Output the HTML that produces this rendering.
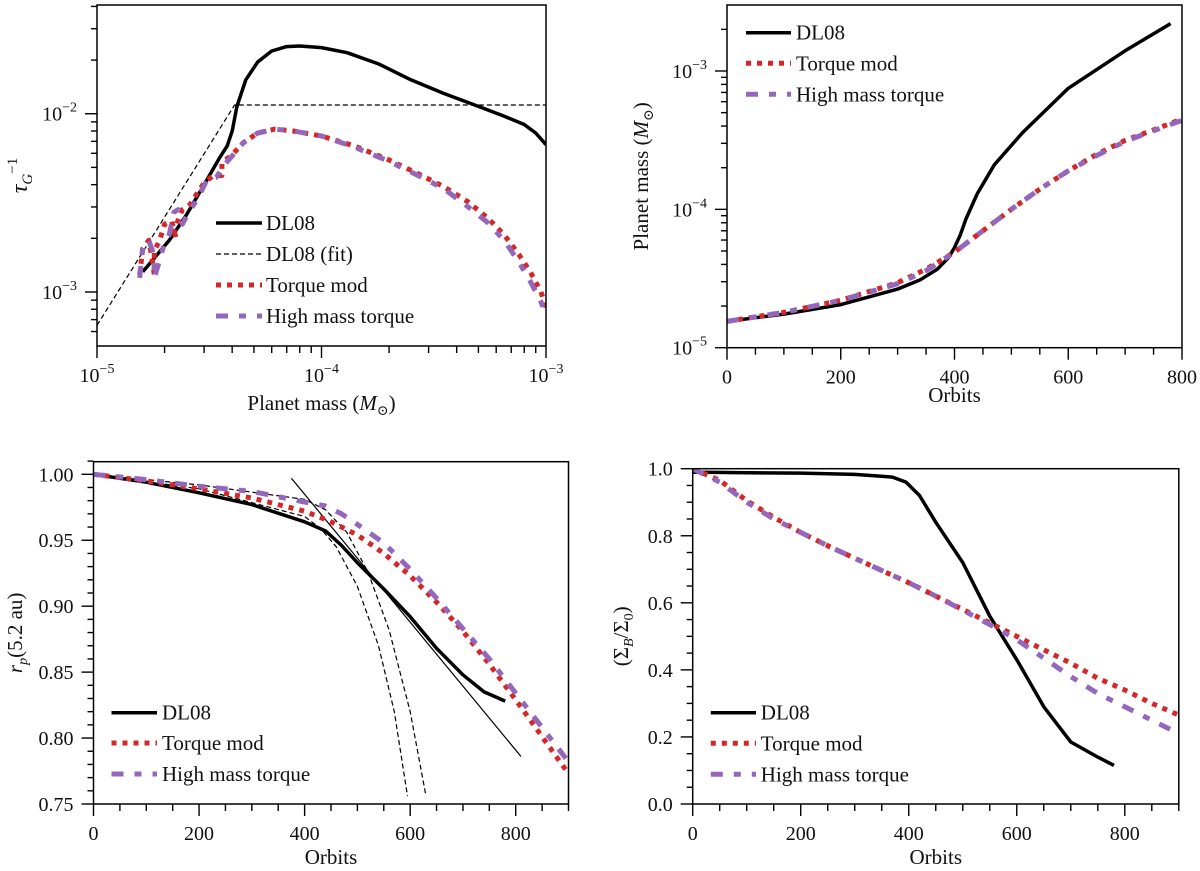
<!DOCTYPE html>
<html><head><meta charset="utf-8"><style>
html,body{margin:0;padding:0;background:#fff}
svg{display:block}
text{font-family:"Liberation Serif","DejaVu Serif",serif;fill:#111}
</style></head><body>
<svg id="fig" width="1200" height="871" viewBox="0 0 1200 871" xmlns="http://www.w3.org/2000/svg"></svg>
<script>
// ---- Panel A: tau_G^-1 vs planet mass (log-log)
const aDL08M=[1.6e-5,1.8e-5,2.1e-5,2.5e-5,3.0e-5,3.5e-5,3.8e-5,4.0e-5,4.2e-5,4.6e-5,5.2e-5,6e-5,7e-5,8e-5,1e-4,1.3e-4,1.8e-4,2.5e-4,3.5e-4,5e-4,6.5e-4,8e-4,9e-4,1e-3];
const aDL08V=[1.3e-3,1.55e-3,1.95e-3,2.7e-3,4.0e-3,5.6e-3,6.6e-3,8.0e-3,1.1e-2,1.55e-2,1.95e-2,2.25e-2,2.38e-2,2.4e-2,2.35e-2,2.2e-2,1.9e-2,1.55e-2,1.3e-2,1.1e-2,9.7e-3,8.7e-3,7.8e-3,6.7e-3];
const aFitM=[1e-5,4.1e-5,1e-3];
const aFitV=[6.5e-4,1.12e-2,1.12e-2];
const aTqM=[1.55e-5,1.6e-5,1.7e-5,1.75e-5,1.8e-5,1.8e-5,1.9e-5,2.0e-5,2.15e-5,2.25e-5,2.2e-5,2.4e-5,2.6e-5,2.8e-5,3.0e-5,3.3e-5,3.6e-5,3.6e-5,4e-5,4.5e-5,5.2e-5,6.2e-5,7.5e-5,1e-4,1.4e-4,2e-4,2.7e-4,3.5e-4,4.5e-4,5.5e-4,6.5e-4,7.5e-4,8.5e-4,9.5e-4,1e-3];
const aTqV=[1.25e-3,1.75e-3,1.95e-3,1.6e-3,1.25e-3,1.7e-3,1.95e-3,2.4e-3,2.5e-3,2.0e-3,2.2e-3,2.9e-3,3.1e-3,3.6e-3,4.1e-3,4.5e-3,4.5e-3,5.3e-3,5.9e-3,6.9e-3,7.8e-3,8.2e-3,8.0e-3,7.5e-3,6.6e-3,5.5e-3,4.6e-3,3.9e-3,3.2e-3,2.6e-3,2.1e-3,1.65e-3,1.3e-3,1.0e-3,8.2e-4];
const aHmM=[1.55e-5,1.6e-5,1.7e-5,1.8e-5,1.8e-5,1.9e-5,2.0e-5,2.1e-5,2.2e-5,2.3e-5,2.4e-5,2.6e-5,2.8e-5,3.1e-5,3.4e-5,3.7e-5,4e-5,4.5e-5,5.2e-5,6.2e-5,7.5e-5,1e-4,1.4e-4,2e-4,2.7e-4,3.5e-4,4.5e-4,5.5e-4,6.5e-4,7.5e-4,8.5e-4,9.5e-4,1e-3];
const aHmV=[1.2e-3,1.8e-3,1.95e-3,1.6e-3,1.2e-3,1.5e-3,1.9e-3,2.1e-3,2.8e-3,2.9e-3,2.4e-3,2.9e-3,3.3e-3,4.3e-3,4.4e-3,5.2e-3,5.8e-3,6.9e-3,7.8e-3,8.2e-3,8.0e-3,7.5e-3,6.5e-3,5.4e-3,4.5e-3,3.8e-3,3.0e-3,2.45e-3,1.95e-3,1.5e-3,1.15e-3,8.8e-4,7.4e-4];
// ---- Panel B: planet mass vs orbits (log y)
const bDL08T=[0,100,200,300,340,370,390,400,410,420,440,470,520,600,700,780];
const bDL08V=[1.55e-5,1.75e-5,2.05e-5,2.65e-5,3.1e-5,3.7e-5,4.5e-5,5.3e-5,6.5e-5,8.5e-5,1.3e-4,2.1e-4,3.6e-4,7.5e-4,1.4e-3,2.2e-3];
const bTqT=[0,100,200,300,350,400,450,500,550,600,650,700,750,800];
const bTqV=[1.55e-5,1.8e-5,2.2e-5,2.95e-5,3.7e-5,4.9e-5,7.0e-5,1.0e-4,1.4e-4,1.9e-4,2.5e-4,3.15e-4,3.75e-4,4.5e-4];
const bHmT=[0,100,200,300,350,400,450,500,550,600,650,700,750,800];
const bHmV=[1.55e-5,1.8e-5,2.2e-5,2.9e-5,3.6e-5,4.9e-5,7.0e-5,1.0e-4,1.4e-4,1.9e-4,2.45e-4,3.1e-4,3.7e-4,4.4e-4];
// ---- Panel C: r_p vs orbits
const cDL08T=[0,100,200,300,400,440,470,500,550,600,650,700,740,780];
const cDL08V=[1.0,0.994,0.986,0.977,0.964,0.957,0.946,0.933,0.913,0.892,0.868,0.848,0.835,0.828];
const cTqT=[0,100,200,300,400,450,500,550,600,650,700,750,800,850,900];
const cTqV=[1.0,0.995,0.989,0.982,0.972,0.964,0.954,0.94,0.923,0.903,0.881,0.856,0.829,0.801,0.773];
const cHmT=[0,100,200,300,400,440,470,500,550,600,650,700,750,800,850,900];
const cHmV=[1.0,0.996,0.991,0.987,0.979,0.976,0.970,0.962,0.948,0.928,0.906,0.883,0.86,0.834,0.808,0.782];
const cFit1T=[0,200,400,430,460,500,540,570,595];
const cFit1V=[1.0,0.989,0.968,0.959,0.945,0.915,0.87,0.82,0.756];
const cFit2T=[0,200,400,440,480,520,560,600,630];
const cFit2V=[1.0,0.992,0.981,0.973,0.956,0.926,0.882,0.82,0.756];
const cLinT=[375,810];
const cLinV=[0.997,0.786];
// ---- Panel D: Sigma_B/Sigma_0 vs orbits
const dDL08T=[0,100,200,300,370,395,420,450,500,550,600,650,700,750,780];
const dDL08V=[0.99,0.988,0.987,0.983,0.975,0.96,0.92,0.84,0.72,0.56,0.43,0.29,0.185,0.14,0.115];
const dTqT=[0,50,100,150,200,250,300,400,450,500,550,600,650,700,750,800,850,900];
const dTqV=[1.0,0.965,0.905,0.855,0.81,0.77,0.733,0.66,0.62,0.58,0.54,0.50,0.46,0.42,0.375,0.34,0.30,0.265];
const dHmT=[0,50,100,150,200,250,300,400,450,500,550,600,650,700,750,800,850,900];
const dHmV=[1.0,0.96,0.9,0.85,0.81,0.77,0.733,0.66,0.62,0.578,0.535,0.49,0.435,0.38,0.33,0.29,0.25,0.21];

const NS='http://www.w3.org/2000/svg';
const svg=document.getElementById('fig');
function mk(tag,attrs,parent){const e=document.createElementNS(NS,tag);for(const k in attrs)e.setAttribute(k,attrs[k]);(parent||svg).appendChild(e);return e;}
const RED='#d62728',PUR='#9467bd';
const STY={dl:{stroke:'#000','stroke-width':3.5},fit:{stroke:'#000','stroke-width':1.2,'stroke-dasharray':'5,3'},thin:{stroke:'#000','stroke-width':1.2},
 tq:{stroke:RED,'stroke-width':5,'stroke-dasharray':'5,6'},hm:{stroke:PUR,'stroke-width':5,'stroke-dasharray':'12,11,7,11'}};

function panel(p){
  const g=mk('g',{});
  
  
  const lin=(v,a,b,pa,pb)=>pa+(v-a)/(b-a)*(pb-pa);
  const X=v=>p.xlog?lin(Math.log10(v),p.x0,p.x1,p.L,p.R):lin(v,p.x0,p.x1,p.L,p.R);
  const Y=v=>p.ylog?lin(Math.log10(v),p.y0,p.y1,p.B,p.T):lin(v,p.y0,p.y1,p.B,p.T);
  const cp=mk('clipPath',{id:'clip'+p.id},g);mk('rect',{x:p.L,y:p.T,width:p.R-p.L,height:p.B-p.T},cp);
  const sg=mk('g',{'clip-path':'url(#clip'+p.id+')'},g);
  
  
  p.series.forEach(s=>{
    const d=s.x.map((v,i)=>(i?'L':'M')+X(v).toFixed(1)+','+Y(s.y[i]).toFixed(1)).join('');
    const a=Object.assign({d:d,fill:'none','stroke-linejoin':'round'},STY[s.st]);
    const e=mk('path',a,sg);
    
    
  });
  mk('rect',{x:p.L,y:p.T,width:p.R-p.L,height:p.B-p.T,fill:'none',stroke:'#000','stroke-width':1.5},g);
  const tk=mk('g',{stroke:'#000','stroke-width':1.4},g);
  p.xmaj.forEach(v=>{const x=X(v);mk('line',{x1:x,x2:x,y1:p.B,y2:p.B+12},tk);});
  p.xmin.forEach(v=>{const x=X(v);mk('line',{x1:x,x2:x,y1:p.B,y2:p.B+7},tk);});
  p.ymaj.forEach(v=>{const y=Y(v);mk('line',{x1:p.L,x2:p.L-12,y1:y,y2:y},tk);});
  p.ymin.forEach(v=>{const y=Y(v);mk('line',{x1:p.L,x2:p.L-6,y1:y,y2:y},tk);});
  p.xmaj.forEach((v,i)=>{const t=mk('text',{x:X(v),y:p.B+36,'text-anchor':'middle','font-size':20},g);
    
    
    fillLabel(t,p.xlab[i]);});
  p.ymaj.forEach((v,i)=>{const t=mk('text',{x:p.L-20,y:Y(v)+7,'text-anchor':'end','font-size':20},g);
    
    
    fillLabel(t,p.ylab[i]);});
  const xt=mk('text',{x:(p.L+p.R)/2,y:p.xty,'text-anchor':'middle','font-size':21},g);
  
  
  xt.innerHTML=p.xtitle;
  const yt=mk('text',{x:0,y:0,'text-anchor':'middle','font-size':21,transform:'translate('+p.ytx+','+((p.T+p.B)/2)+') rotate(-90)'},g);
  
  
  yt.innerHTML=p.ytitle;
  const lg=mk('g',{},g);
  
  
  p.legend.forEach((l,i)=>{
    const y=p.lgy[i];
    const ln=mk('line',Object.assign({x1:p.lgx[0],x2:p.lgx[1],y1:y,y2:y},STY[l.st]),lg);
    
    
    const t=mk('text',{x:p.lgx[2],y:y+7,'font-size':21},lg);
    
    
    t.textContent=l.t;
  });
}
function fillLabel(t,s){
  if(s.startsWith('10^')){t.innerHTML='10<tspan dy="-9" font-size="14">−'+s.slice(4)+'</tspan>';}
  else t.textContent=s;
}
function logMinor(a,b){const r=[];for(let e=a;e<b;e++)for(let k=2;k<=9;k++)r.push(k*Math.pow(10,e));return r;}
function rng(a,b,s){const r=[];for(let v=a;v<=b+1e-9;v+=s)r.push(+v.toFixed(4));return r;}

const LEG3=[{st:'dl',t:'DL08'},{st:'tq',t:'Torque mod'},{st:'hm',t:'High mass torque'}];

panel({id:'a',name:'panel-growth-rate',L:97,R:546,T:5,B:346,xlog:true,ylog:true,x0:-5,x1:-3,y0:-3.303,y1:-1.39,
 xmaj:[1e-5,1e-4,1e-3],xlab:['10^-5','10^-4','10^-3'],xmin:logMinor(-5,-3),
 ymaj:[1e-3,1e-2],ylab:['10^-3','10^-2'],ymin:logMinor(-4,-1).filter(v=>v>5e-4&&v<0.041&&v!==1e-3&&v!==1e-2),
 xtitle:'Planet mass (<tspan font-style="italic">M</tspan><tspan font-size="14" dy="5">⊙</tspan><tspan dy="-5">)</tspan>',xty:410,
 ytitle:'<tspan font-style="italic" font-size="24">τ</tspan><tspan font-style="italic" font-size="15" dy="5">G</tspan><tspan font-size="15" dy="-15">−1</tspan>',ytx:27,
 series:[{name:'fit-line',st:'fit',x:aFitM,y:aFitV},{name:'dl08-line',st:'dl',x:aDL08M,y:aDL08V},{name:'torque-mod-line',st:'tq',x:aTqM,y:aTqV},{name:'high-mass-torque-line',st:'hm',x:aHmM,y:aHmV}],
 legend:[{st:'dl',t:'DL08'},{st:'fit',t:'DL08 (fit)'},{st:'tq',t:'Torque mod'},{st:'hm',t:'High mass torque'}],
 lgy:[223,254,285,316],lgx:[216,262,266]});

panel({id:'b',name:'panel-planet-mass',L:727,R:1182,T:5,B:347.7,xlog:false,ylog:true,x0:0,x1:800,y0:-5,y1:-2.523,
 xmaj:rng(0,800,200),xlab:['0','200','400','600','800'],xmin:rng(50,750,50).filter(v=>v%200),
 ymaj:[1e-5,1e-4,1e-3],ylab:['10^-5','10^-4','10^-3'],ymin:logMinor(-5,-2).filter(v=>v<3e-3),
 xtitle:'Orbits',xty:402,
 ytitle:'Planet mass (<tspan font-style="italic">M</tspan><tspan font-size="14" dy="5">⊙</tspan><tspan dy="-5">)</tspan>',ytx:648,
 series:[{name:'dl08-line',st:'dl',x:bDL08T,y:bDL08V},{name:'torque-mod-line',st:'tq',x:bTqT,y:bTqV},{name:'high-mass-torque-line',st:'hm',x:bHmT,y:bHmV}],
 legend:LEG3,lgy:[32.7,63.3,94.3],lgx:[746,791,796]});

panel({id:'c',name:'panel-orbital-radius',L:93.5,R:568.5,T:461.7,B:804,xlog:false,ylog:false,x0:0,x1:900,y0:0.75,y1:1.0+ (474.3-461.7)/(804-474.3)*0.25,
 xmaj:rng(0,800,200),xlab:['0','200','400','600','800'],xmin:rng(50,900,50).filter(v=>v%200),
 ymaj:rng(0.75,1.0,0.05),ylab:['0.75','0.80','0.85','0.90','0.95','1.00'],ymin:rng(0.76,1.01,0.01).filter(v=>Math.round(v*100)%5),
 xtitle:'Orbits',xty:864,
 ytitle:'<tspan font-style="italic">r</tspan><tspan font-style="italic" font-size="14" dy="5">p</tspan><tspan dy="-5">(5.2 au)</tspan>',ytx:22,
 series:[{name:'fit-curve-1',st:'fit',x:cFit1T,y:cFit1V},{name:'fit-curve-2',st:'fit',x:cFit2T,y:cFit2V},{name:'tangent-line',st:'thin',x:cLinT,y:cLinV},
   {name:'dl08-line',st:'dl',x:cDL08T,y:cDL08V},{name:'torque-mod-line',st:'tq',x:cTqT,y:cTqV},{name:'high-mass-torque-line',st:'hm',x:cHmT,y:cHmV}],
 legend:LEG3,lgy:[712.7,743,774],lgx:[111.5,157,162]});

panel({id:'d',name:'panel-surface-density',L:692.7,R:1178.8,T:468.7,B:804,xlog:false,ylog:false,x0:0,x1:900,y0:0,y1:1.0,
 xmaj:rng(0,800,200),xlab:['0','200','400','600','800'],xmin:rng(50,900,50).filter(v=>v%200),
 ymaj:rng(0,1,0.2),ylab:['0.0','0.2','0.4','0.6','0.8','1.0'],ymin:rng(0.05,0.95,0.05).filter(v=>Math.round(v*100)%20),
 xtitle:'Orbits',xty:864,
 ytitle:'(Σ<tspan font-style="italic" font-size="14" dy="5">B</tspan><tspan dy="-5">/Σ</tspan><tspan font-size="14" dy="5">0</tspan><tspan dy="-5">)</tspan>',ytx:628,
 series:[{name:'dl08-line',st:'dl',x:dDL08T,y:dDL08V},{name:'torque-mod-line',st:'tq',x:dTqT,y:dTqV},{name:'high-mass-torque-line',st:'hm',x:dHmT,y:dHmV}],
 legend:LEG3,lgy:[712.7,743.3,774.3],lgx:[710.8,756,760.8]});
</script>
</body></html>
